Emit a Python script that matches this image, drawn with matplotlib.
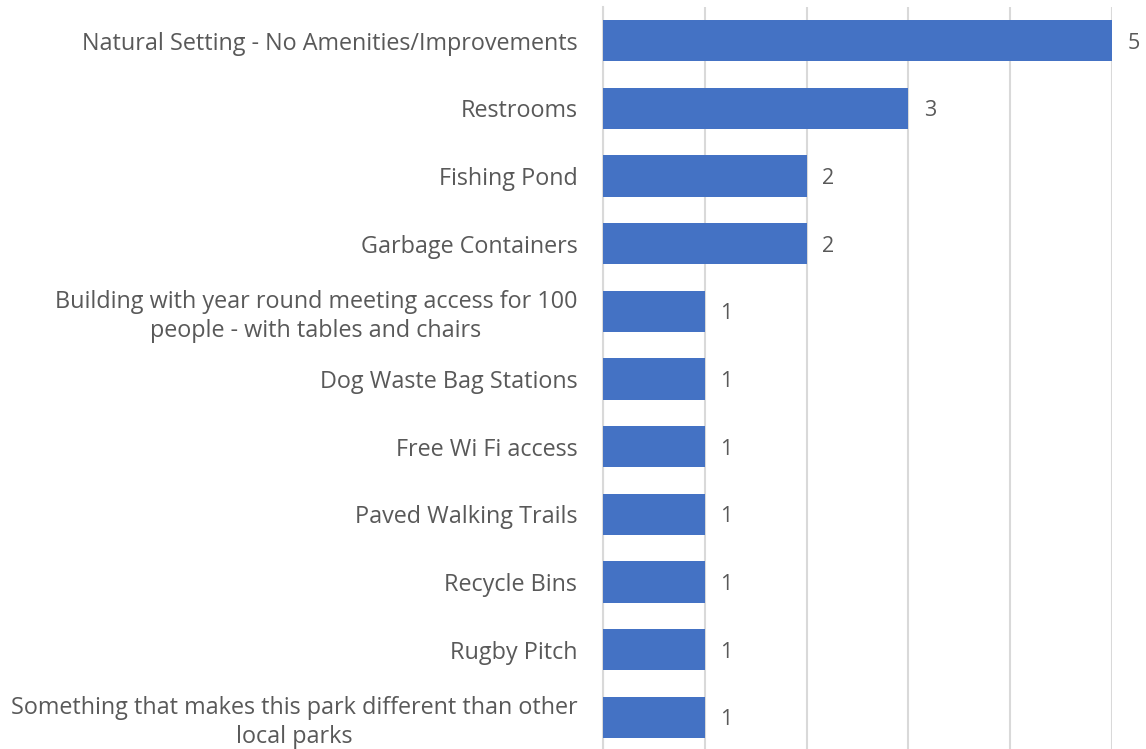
import matplotlib.pyplot as plt

# amenity responses, top to bottom
amenities = [
    "Natural Setting - No Amenities/Improvements",
    "Restrooms",
    "Fishing Pond",
    "Garbage Containers",
    "Building with year round meeting access for 100\npeople - with tables and chairs",
    "Dog Waste Bag Stations",
    "Free Wi Fi access",
    "Paved Walking Trails",
    "Recycle Bins",
    "Rugby Pitch",
    "Something that makes this park different than other\nlocal parks",
]
counts = [5, 3, 2, 2, 1, 1, 1, 1, 1, 1, 1]

bar_color = "#4472C4"
text_color = "#595959"
grid_color = "#D9D9D9"

plt.rcParams['font.family'] = ['Open Sans', 'DejaVu Sans']

W, H = 1146, 749
fig = plt.figure(figsize=(W / 100, H / 100), dpi=100)
ax = fig.add_axes([603 / W, (H - 751) / H, (1112 - 603) / W, (751 - 7) / H])

ypos = list(range(len(amenities)))
ax.barh(ypos, counts, height=0.61, color=bar_color, zorder=3)

ax.set_xlim(0, 5)
ax.set_ylim(len(amenities) - 0.5, -0.5)
ax.set_xticks([0, 1, 2, 3, 4, 5])
ax.xaxis.grid(True, color=grid_color, linewidth=1.5, zorder=0)
ax.tick_params(axis='x', labelbottom=False, length=0)
ax.tick_params(axis='y', length=0, pad=18.5, labelsize=16.8, labelcolor=text_color)
ax.set_yticks(ypos)
ax.set_yticklabels(amenities, multialignment='center', linespacing=1.26)
for side in ['top', 'right', 'bottom']:
    ax.spines[side].set_visible(False)
ax.spines['left'].set_color(grid_color)
ax.spines['left'].set_linewidth(1.5)

# value labels next to each bar
for y, v in zip(ypos, counts):
    ax.annotate(str(v), (v, y), xytext=(11, 0), textcoords='offset points',
                va='center_baseline', ha='left', fontsize=15.5, color=text_color,
                annotation_clip=False)

fig.savefig("out.png", dpi=100)
